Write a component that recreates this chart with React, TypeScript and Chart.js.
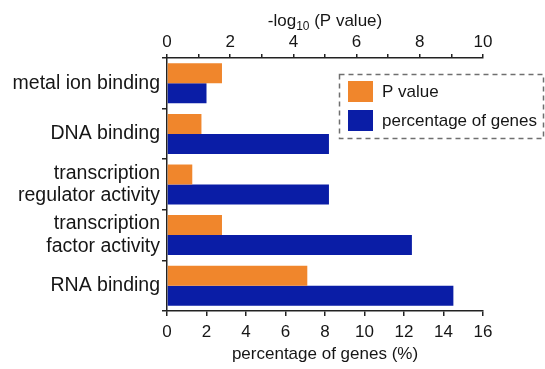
import React, { useEffect, useRef } from "react";
import { Chart, registerables } from "chart.js";

Chart.register(...registerables);

const categories: string[][] = [
  ["metal ion binding"],
  ["DNA binding"],
  ["transcription", "regulator activity"],
  ["transcription", "factor activity"],
  ["RNA binding"],
];
const pValueLog: number[] = [1.74, 1.09, 0.8, 1.74, 4.44];
const percentGenes: number[] = [2.0, 8.2, 8.2, 12.4, 14.5];
const seriesLabels: string[] = ["P value", "percentage of genes"];
const bottomTitle = "percentage of genes (%)";

const ORANGE = "#F0862C";
const BLUE = "#0A1DA6";
const TEXT = "#161616";
const AXIS = "#222222";
const FAMILY = '"Liberation Sans", Arial, Helvetica, sans-serif';

const extrasPlugin = {
  id: "extras",
  afterDraw(chart: any) {
    const ctx: CanvasRenderingContext2D = chart.ctx;
    const area = chart.chartArea;
    ctx.save();
    // top axis title with subscript
    ctx.fillStyle = TEXT;
    ctx.textBaseline = "alphabetic";
    const big = `17px ${FAMILY}`;
    const small = `12px ${FAMILY}`;
    ctx.font = big;
    const w1 = ctx.measureText("-log").width;
    const w3 = ctx.measureText(" (P value)").width;
    ctx.font = small;
    const w2 = ctx.measureText("10").width;
    const total = w1 + w2 + w3;
    let x = (area.left + area.right) / 2 - total / 2;
    const base = 26;
    ctx.font = big;
    ctx.textAlign = "left";
    ctx.fillText("-log", x, base);
    x += w1;
    ctx.font = small;
    ctx.fillText("10", x, base + 4);
    x += w2;
    ctx.font = big;
    ctx.fillText(" (P value)", x, base);

    // legend with dashed frame
    const lx = area.right - 143.5;
    const ly = 74.5;
    ctx.fillStyle = "#ffffff";
    ctx.fillRect(lx, ly, 204, 64);
    ctx.setLineDash([5, 4]);
    ctx.strokeStyle = "#6f6f6f";
    ctx.lineWidth = 1.5;
    ctx.strokeRect(lx, ly, 204, 64);
    ctx.setLineDash([]);
    const colors = [ORANGE, BLUE];
    const ds = chart.data.datasets;
    ctx.font = big;
    ctx.textBaseline = "middle";
    for (let i = 0; i < ds.length; i++) {
      const ry = ly + 6.5 + i * 29;
      ctx.fillStyle = colors[i];
      ctx.fillRect(lx + 8.5, ry, 25, 21);
      ctx.fillStyle = TEXT;
      ctx.fillText(ds[i].label, lx + 42.5, ry + 11);
    }
    ctx.restore();
  },
};

export default function App() {
  const ref = useRef<HTMLCanvasElement | null>(null);
  useEffect(() => {
    if (!ref.current) return;
    Chart.defaults.font.family = FAMILY;
    const chart = new Chart(ref.current, {
      type: "bar",
      data: {
        labels: categories,
        datasets: [
          {
            label: seriesLabels[0],
            data: pValueLog,
            backgroundColor: ORANGE,
            xAxisID: "x2",
            categoryPercentage: 0.79,
            barPercentage: 1.0,
          },
          {
            label: seriesLabels[1],
            data: percentGenes,
            backgroundColor: BLUE,
            xAxisID: "x",
            categoryPercentage: 0.79,
            barPercentage: 1.0,
          },
        ],
      },
      options: {
        indexAxis: "y",
        animation: false,
        responsive: false,
        layout: { padding: { left: 0, right: 62, top: 0, bottom: 0 } },
        plugins: {
          legend: { display: false },
          tooltip: { enabled: false },
        },
        scales: {
          y: {
            type: "category",
            position: "left",
            offset: true,
            grid: {
              display: true,
              drawOnChartArea: false,
              drawTicks: true,
              tickLength: 5,
              offset: true,
              color: AXIS,
              lineWidth: 1.5,
            },
            border: { display: true, color: AXIS, width: 1.5 },
            ticks: {
              color: TEXT,
              font: { size: 19.5, lineHeight: 1.15 },
              padding: 2,
              autoSkip: false,
            },
            afterFit: (s: any) => {
              s.width = 167;
            },
          },
          x: {
            type: "linear",
            position: "bottom",
            min: 0,
            max: 16,
            grid: {
              drawOnChartArea: false,
              drawTicks: true,
              tickLength: 5,
              color: AXIS,
              lineWidth: 1.5,
            },
            border: { display: true, color: AXIS, width: 1.5 },
            ticks: { stepSize: 2, color: TEXT, font: { size: 17 }, padding: 6 },
            title: {
              display: true,
              text: bottomTitle,
              color: TEXT,
              font: { size: 17 },
              padding: { top: 0, bottom: 4 },
            },
            afterFit: (s: any) => {
              s.height = 58;
            },
          },
          x2: {
            type: "linear",
            position: "top",
            min: 0,
            max: 10,
            grid: {
              drawOnChartArea: false,
              drawTicks: true,
              tickLength: 4,
              color: AXIS,
              lineWidth: 1.5,
            },
            border: { display: true, color: AXIS, width: 1.5 },
            ticks: {
              stepSize: 1,
              color: TEXT,
              font: { size: 17 },
              padding: 1,
              autoSkip: false,
              maxRotation: 0,
              callback: (v: any) => (Number(v) % 2 === 0 ? String(v) : ""),
            },
            afterFit: (s: any) => {
              s.height = 58;
            },
          },
        },
      },
      plugins: [extrasPlugin],
    });
    return () => chart.destroy();
  }, []);
  return (
    <div style={{ position: "absolute", left: 0, top: 0, width: 545, height: 369, background: "#fff" }}>
      <canvas ref={ref} width={545} height={369} />
    </div>
  );
}
